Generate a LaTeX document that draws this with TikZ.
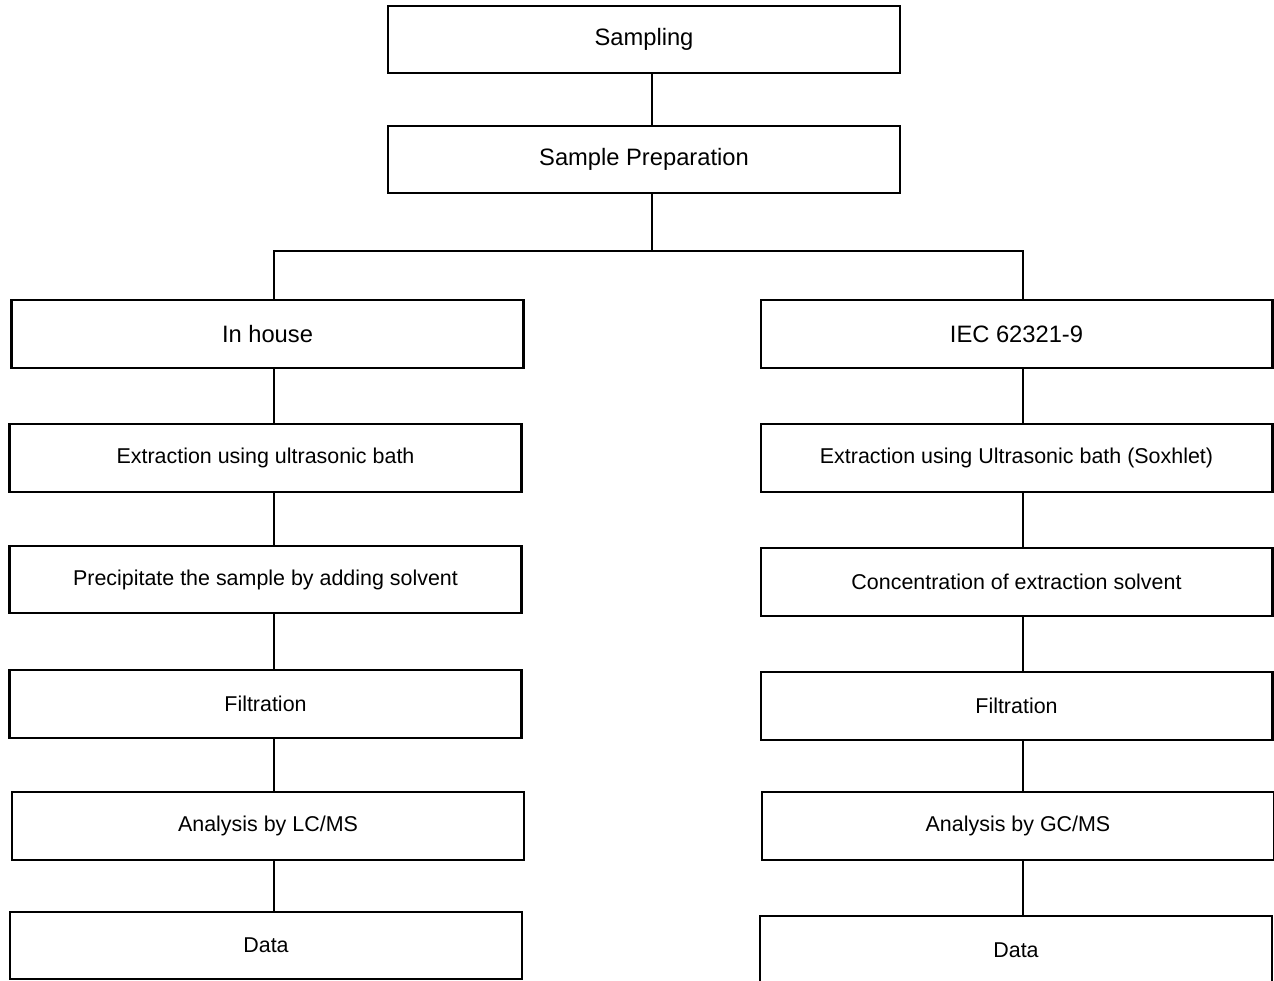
\documentclass[tikz,border=0pt]{standalone}
\usepackage{fontspec}
\setmainfont{Liberation Sans}
\begin{document}
\begin{tikzpicture}[x=0.02cm,y=-0.02cm,
	every node/.style={draw,line width=1.2pt,inner sep=0,
	minimum width=10.24cm,minimum height=1.35cm},
	head/.style={font=\fontsize{13.5}{16}\selectfont},
	stage/.style={font=\fontsize{12.2}{14}\selectfont},
	link/.style={line width=1.2pt}]
\useasboundingbox (0,0) rectangle (1274,980);
\node[head] (sampling) at (644,39.5) {Sampling};
\node[head] (prep) at (644,159.5) {Sample Preparation};
\node[head] (inhouse) at (267.5,334) {In house};
\node[head] (iec) at (1016.5,334) {IEC 62321-9};
\node[stage] (extl) at (265.5,458) {Extraction using ultrasonic bath};
\node[stage] (extr) at (1016.5,458) {Extraction using Ultrasonic bath (Soxhlet)};
\node[stage] (prec) at (265.5,579.5) {Precipitate the sample by adding solvent};
\node[stage] (conc) at (1016.5,582) {Concentration of extraction solvent};
\node[stage] (filtl) at (265.5,704) {Filtration};
\node[stage] (filtr) at (1016.5,706) {Filtration};
\node[stage] (lcms) at (268,826) {Analysis by LC/MS};
\node[stage] (gcms) at (1018,826) {Analysis by GC/MS};
\node[stage] (datal) at (266,945.5) {Data};
\node[stage] (datar) at (1016,950) {Data};
\coordinate (split) at (652,251);
\coordinate (lx) at (274,0);
\coordinate (rx) at (1023,0);
\draw[link] (sampling.south -| split) -- (prep.north -| split);
\draw[link] (prep.south -| split) -- (split);
\draw[link] (inhouse.north -| lx) |- (split) -| (iec.north -| rx);
\draw[link] (inhouse.south -| lx) -- (extl.north -| lx);
\draw[link] (extl.south -| lx) -- (prec.north -| lx);
\draw[link] (prec.south -| lx) -- (filtl.north -| lx);
\draw[link] (filtl.south -| lx) -- (lcms.north -| lx);
\draw[link] (lcms.south -| lx) -- (datal.north -| lx);
\draw[link] (iec.south -| rx) -- (extr.north -| rx);
\draw[link] (extr.south -| rx) -- (conc.north -| rx);
\draw[link] (conc.south -| rx) -- (filtr.north -| rx);
\draw[link] (filtr.south -| rx) -- (gcms.north -| rx);
\draw[link] (gcms.south -| rx) -- (datar.north -| rx);
\end{tikzpicture}
\end{document}
